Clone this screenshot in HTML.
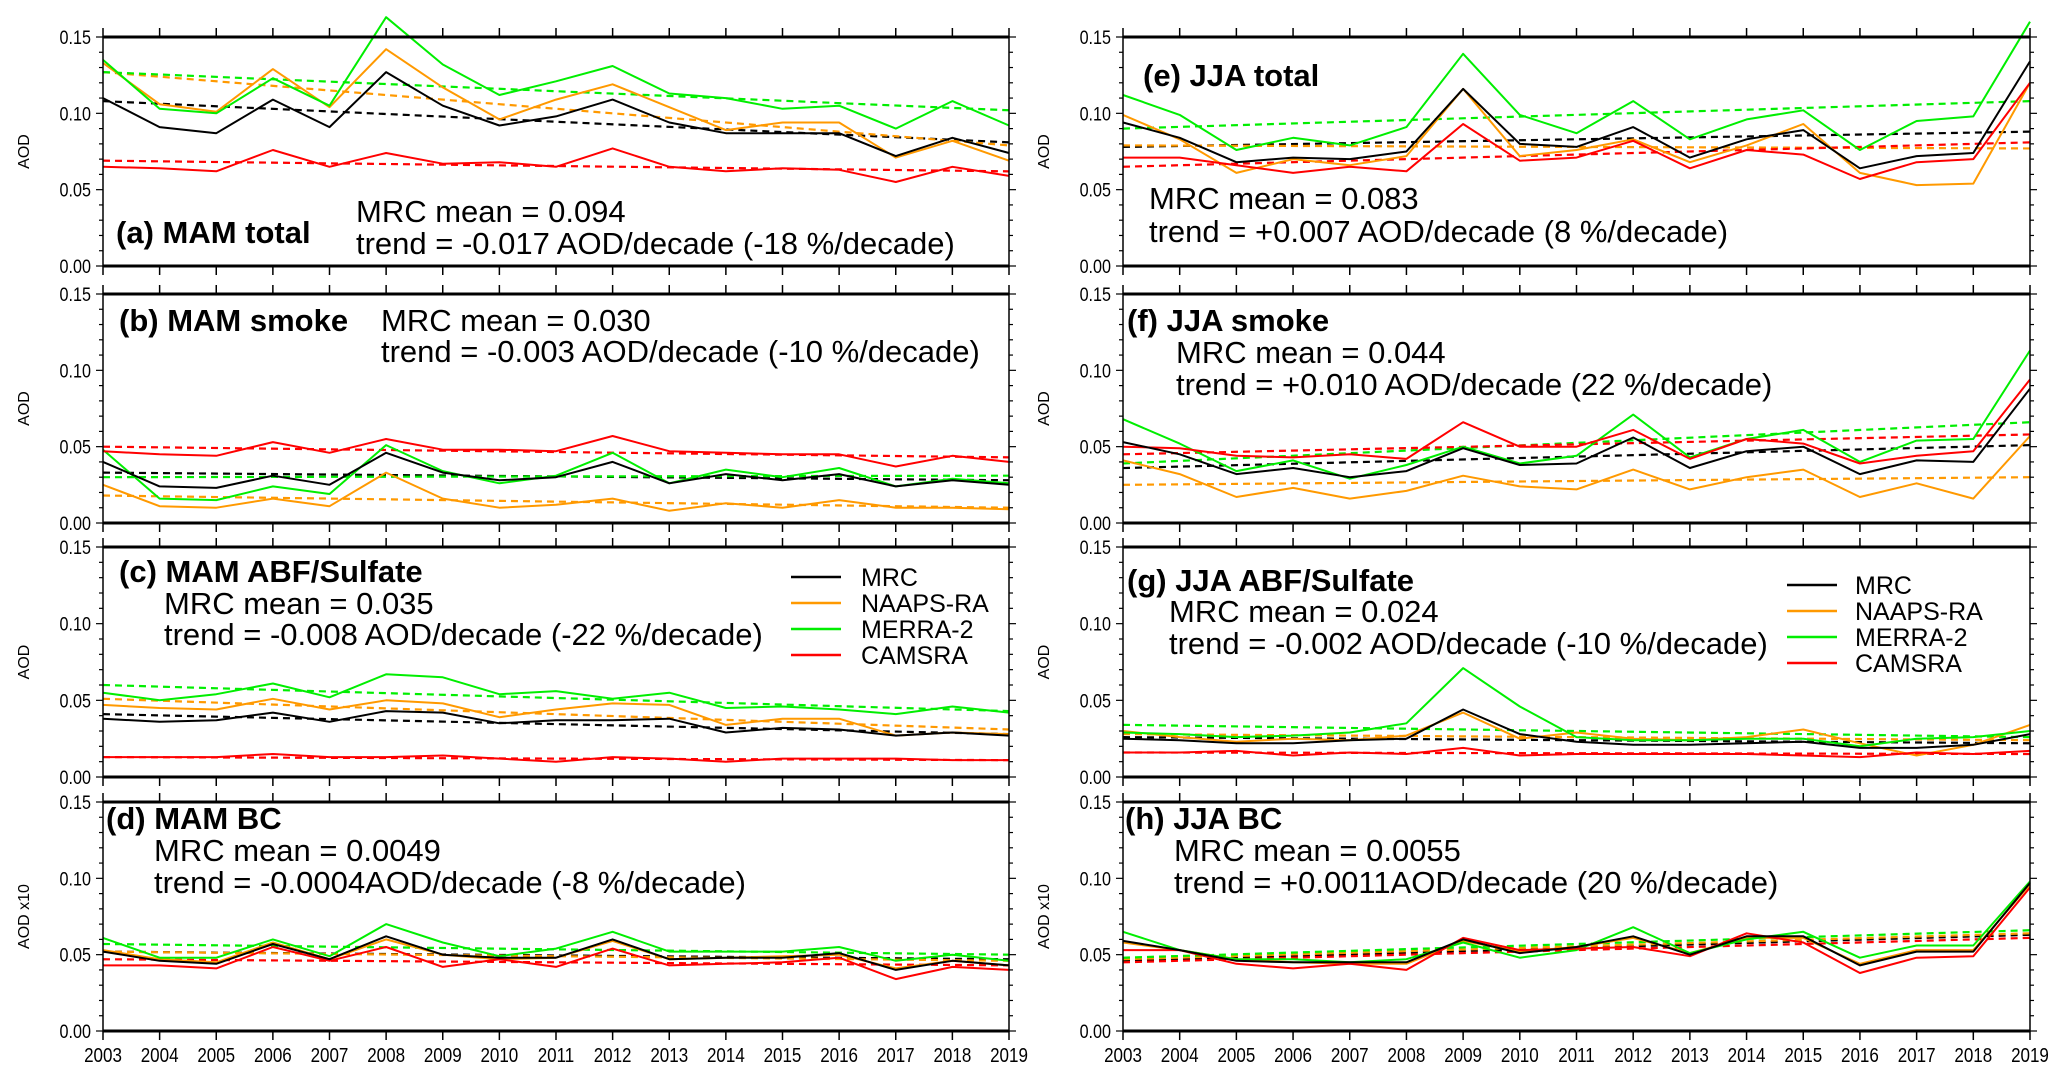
<!DOCTYPE html>
<html><head><meta charset="utf-8">
<style>
html,body{margin:0;padding:0;background:#fff;}
svg{display:block;font-family:"Liberation Sans",sans-serif;}
</style></head>
<body>
<svg id="chart" width="2067" height="1077" viewBox="0 0 2067 1077" xmlns="http://www.w3.org/2000/svg"></svg>
<script>
const years = [2003,2004,2005,2006,2007,2008,2009,2010,2011,2012,2013,2014,2015,2016,2017,2018,2019];
const yTicks = [0.00,0.05,0.10,0.15];
const seriesNames = ["MRC","NAAPS-RA","MERRA-2","CAMSRA"];

const aMRC   = [0.110,0.091,0.087,0.109,0.091,0.127,0.105,0.092,0.098,0.109,0.094,0.087,0.087,0.087,0.072,0.084,0.074];
const aNAAPS = [0.133,0.106,0.101,0.129,0.104,0.142,0.117,0.096,0.109,0.119,0.104,0.089,0.094,0.094,0.071,0.082,0.069];
const aMERRA = [0.135,0.103,0.100,0.123,0.105,0.163,0.132,0.112,0.121,0.131,0.113,0.110,0.103,0.105,0.090,0.108,0.092];
const aCAMS  = [0.065,0.064,0.062,0.076,0.065,0.074,0.067,0.068,0.065,0.077,0.065,0.062,0.064,0.063,0.055,0.065,0.059];
const aTrend = [[0.108,0.081],[0.127,0.079],[0.127,0.102],[0.069,0.062]];

const bMRC   = [0.040,0.024,0.023,0.031,0.025,0.046,0.033,0.028,0.030,0.040,0.026,0.032,0.028,0.032,0.024,0.028,0.025];
const bNAAPS = [0.025,0.011,0.010,0.016,0.011,0.033,0.016,0.010,0.012,0.016,0.008,0.013,0.010,0.015,0.010,0.010,0.009];
const bMERRA = [0.048,0.016,0.015,0.024,0.019,0.051,0.034,0.026,0.031,0.046,0.026,0.035,0.030,0.036,0.024,0.029,0.026];
const bCAMS  = [0.047,0.045,0.044,0.053,0.046,0.055,0.048,0.048,0.047,0.057,0.047,0.046,0.045,0.045,0.037,0.044,0.040];
const bTrend = [[0.033,0.028],[0.018,0.010],[0.030,0.031],[0.050,0.043]];

const cMRC   = [0.038,0.036,0.037,0.042,0.036,0.043,0.042,0.035,0.037,0.037,0.038,0.029,0.032,0.031,0.027,0.029,0.027];
const cNAAPS = [0.047,0.045,0.044,0.051,0.044,0.050,0.048,0.039,0.044,0.048,0.047,0.034,0.038,0.038,0.027,0.029,0.028];
const cMERRA = [0.055,0.050,0.054,0.061,0.052,0.067,0.065,0.054,0.056,0.051,0.055,0.045,0.046,0.044,0.041,0.046,0.042];
const cCAMS  = [0.013,0.013,0.013,0.015,0.013,0.013,0.014,0.012,0.010,0.013,0.012,0.010,0.012,0.012,0.012,0.011,0.011];
const cTrend = [[0.041,0.028],[0.051,0.031],[0.060,0.043],[0.013,0.011]];

const dMRC   = [0.052,0.046,0.044,0.057,0.047,0.062,0.050,0.048,0.048,0.060,0.047,0.048,0.048,0.051,0.040,0.046,0.043];
const dNAAPS = [0.053,0.047,0.045,0.058,0.047,0.060,0.050,0.047,0.048,0.059,0.047,0.048,0.049,0.050,0.041,0.046,0.043];
const dMERRA = [0.061,0.048,0.048,0.060,0.049,0.070,0.058,0.049,0.054,0.065,0.052,0.052,0.052,0.055,0.046,0.050,0.046];
const dCAMS  = [0.043,0.043,0.041,0.055,0.046,0.055,0.042,0.047,0.042,0.054,0.043,0.044,0.045,0.048,0.034,0.042,0.040];
const dTrend = [[0.052,0.047],[0.052,0.046],[0.057,0.050],[0.047,0.043]];

const eMRC   = [0.094,0.084,0.068,0.071,0.070,0.075,0.116,0.080,0.078,0.091,0.071,0.083,0.089,0.064,0.072,0.074,0.134];
const eNAAPS = [0.099,0.083,0.061,0.070,0.066,0.072,0.116,0.072,0.076,0.083,0.068,0.079,0.093,0.061,0.053,0.054,0.120];
const eMERRA = [0.112,0.099,0.076,0.084,0.079,0.091,0.139,0.099,0.087,0.108,0.083,0.096,0.102,0.076,0.095,0.098,0.160];
const eCAMS  = [0.071,0.071,0.066,0.061,0.065,0.062,0.093,0.069,0.071,0.082,0.064,0.076,0.073,0.057,0.068,0.070,0.120];
const eTrend = [[0.078,0.088],[0.079,0.077],[0.090,0.108],[0.065,0.081]];

const fMRC   = [0.053,0.045,0.032,0.036,0.030,0.034,0.049,0.038,0.039,0.056,0.036,0.047,0.050,0.032,0.041,0.040,0.088];
const fNAAPS = [0.041,0.032,0.017,0.023,0.016,0.021,0.031,0.024,0.022,0.035,0.022,0.030,0.035,0.017,0.026,0.016,0.057];
const fMERRA = [0.068,0.052,0.034,0.041,0.029,0.038,0.050,0.039,0.044,0.071,0.043,0.055,0.061,0.040,0.054,0.055,0.113];
const fCAMS  = [0.050,0.049,0.044,0.043,0.045,0.042,0.066,0.050,0.050,0.061,0.042,0.055,0.052,0.039,0.044,0.047,0.094];
const fTrend = [[0.036,0.051],[0.025,0.030],[0.039,0.066],[0.045,0.058]];

const gMRC   = [0.025,0.024,0.022,0.022,0.024,0.025,0.044,0.028,0.023,0.021,0.021,0.022,0.023,0.019,0.019,0.021,0.028];
const gNAAPS = [0.030,0.026,0.023,0.025,0.024,0.027,0.042,0.025,0.029,0.025,0.024,0.026,0.031,0.022,0.014,0.021,0.034];
const gMERRA = [0.029,0.028,0.026,0.027,0.029,0.035,0.071,0.046,0.026,0.024,0.024,0.025,0.025,0.020,0.025,0.026,0.030];
const gCAMS  = [0.016,0.016,0.017,0.014,0.016,0.015,0.019,0.014,0.015,0.015,0.015,0.015,0.014,0.013,0.016,0.015,0.017];
const gTrend = [[0.026,0.022],[0.028,0.024],[0.034,0.026],[0.016,0.015]];

const hMRC   = [0.059,0.053,0.046,0.045,0.045,0.045,0.060,0.051,0.055,0.062,0.050,0.062,0.062,0.043,0.052,0.052,0.097];
const hNAAPS = [0.058,0.053,0.047,0.045,0.044,0.044,0.059,0.052,0.055,0.061,0.051,0.061,0.061,0.044,0.053,0.053,0.096];
const hMERRA = [0.065,0.053,0.047,0.047,0.045,0.047,0.058,0.048,0.053,0.068,0.051,0.060,0.065,0.048,0.056,0.056,0.098];
const hCAMS  = [0.053,0.053,0.044,0.041,0.044,0.040,0.061,0.053,0.054,0.055,0.049,0.064,0.058,0.038,0.048,0.049,0.094];
const hTrend = [[0.046,0.063],[0.047,0.064],[0.048,0.066],[0.045,0.061]];

const NS = "http://www.w3.org/2000/svg";
const svg = document.getElementById("chart");
const colors = ["#000000","#ff9900","#00ee00","#ff0000"];
const rows = [[37,266],[294,523],[547,777],[802,1031]];
const cols = [[103,1009],[1123,2030]];

function el(tag, attrs, parent){
  const e = document.createElementNS(NS, tag);
  for (const k in attrs) e.setAttribute(k, attrs[k]);
  (parent||svg).appendChild(e);
  return e;
}

const panels = [
 {id:"a",col:0,row:0,data:[aMRC,aNAAPS,aMERRA,aCAMS],trend:aTrend,yt:"AOD",
  texts:[["(a) MAM total",116,243],["MRC mean = 0.094",356,222],["trend = -0.017 AOD/decade (-18 %/decade)",356,254]]},
 {id:"b",col:0,row:1,data:[bMRC,bNAAPS,bMERRA,bCAMS],trend:bTrend,yt:"AOD",
  texts:[["(b) MAM smoke",119,331],["MRC mean = 0.030",381,331],["trend = -0.003 AOD/decade (-10 %/decade)",381,362]]},
 {id:"c",col:0,row:2,data:[cMRC,cNAAPS,cMERRA,cCAMS],trend:cTrend,yt:"AOD",legend:[791,861,577],
  texts:[["(c) MAM ABF/Sulfate",119,582],["MRC mean = 0.035",164,614],["trend = -0.008 AOD/decade (-22 %/decade)",164,645]]},
 {id:"d",col:0,row:3,data:[dMRC,dNAAPS,dMERRA,dCAMS],trend:dTrend,yt:"AOD x10",xl:true,
  texts:[["(d) MAM BC",106,829],["MRC mean = 0.0049",154,861],["trend = -0.0004AOD/decade (-8 %/decade)",154,893]]},
 {id:"e",col:1,row:0,data:[eMRC,eNAAPS,eMERRA,eCAMS],trend:eTrend,yt:"AOD",
  texts:[["(e) JJA total",1143,86],["MRC mean = 0.083",1149,209],["trend = +0.007 AOD/decade (8 %/decade)",1149,242]]},
 {id:"f",col:1,row:1,data:[fMRC,fNAAPS,fMERRA,fCAMS],trend:fTrend,yt:"AOD",
  texts:[["(f) JJA smoke",1127,331],["MRC mean = 0.044",1176,363],["trend = +0.010 AOD/decade (22 %/decade)",1176,395]]},
 {id:"g",col:1,row:2,data:[gMRC,gNAAPS,gMERRA,gCAMS],trend:gTrend,yt:"AOD",legend:[1787,1855,585],
  texts:[["(g) JJA ABF/Sulfate",1127,591],["MRC mean = 0.024",1169,622],["trend = -0.002 AOD/decade (-10 %/decade)",1169,654]]},
 {id:"h",col:1,row:3,data:[hMRC,hNAAPS,hMERRA,hCAMS],trend:hTrend,yt:"AOD x10",xl:true,
  texts:[["(h) JJA BC",1125,829],["MRC mean = 0.0055",1174,861],["trend = +0.0011AOD/decade (20 %/decade)",1174,893]]}
];

panels.forEach(p=>{
  const [x0,x1] = cols[p.col], [y0,y1] = rows[p.row];
  const xs = i => x0 + (x1-x0)*i/(years.length-1);
  const ys = v => y1 - (y1-y0)*v/0.15;
  const g = el("g",{});
  
  
  for (let i=0;i<years.length;i++){
    const t1 = el("line",{x1:xs(i),x2:xs(i),y1:y1,y2:y1+9,stroke:"#000","stroke-width":1.5},g);
    
    
    const t2 = el("line",{x1:xs(i),x2:xs(i),y1:y0,y2:y0-9,stroke:"#000","stroke-width":1.5},g);
    
    
  }
  for (let k=0;k<=15;k++){
    const v = k*0.01, len = (k%5===0)?7:4;
    const l1 = el("line",{x1:x0-len,x2:x0,y1:ys(v),y2:ys(v),stroke:"#000","stroke-width":1.2},g);
    
    
    const l2 = el("line",{x1:x1,x2:x1+len,y1:ys(v),y2:ys(v),stroke:"#000","stroke-width":1.2},g);
    
    
  }
  yTicks.forEach(v=>{
    const t = el("text",{x:x0-12,y:ys(v)+7,"text-anchor":"end","font-size":19,transform:`translate(${x0-12},0) scale(0.85,1) translate(${-(x0-12)},0)`},g);
    t.textContent = v.toFixed(2);
    
    
  });
  if (p.xl){
    years.forEach((yr,i)=>{
      const t = el("text",{x:xs(i),y:y1+31,"text-anchor":"middle","font-size":20,transform:`translate(${xs(i)},0) scale(0.85,1) translate(${-xs(i)},0)`},g);
      t.textContent = yr;
      
      
    });
  }
  const ya = el("text",{x:0,y:0,"text-anchor":"middle","font-size":16,transform:`translate(${x0-74},${(y0+y1)/2}) rotate(-90)`},g);
  ya.textContent = p.yt;
  
  
  p.data.forEach((arr,si)=>{
    const tr = p.trend[si];
    const dl = el("line",{x1:xs(0),y1:ys(tr[0]),x2:xs(years.length-1),y2:ys(tr[1]),stroke:colors[si],"stroke-width":2.2,"stroke-dasharray":"7,5"},g);
    
    
  });
  [1,2,3,0].forEach(si=>{
    const arr = p.data[si];
    const pts = arr.map((v,i)=>xs(i).toFixed(1)+","+ys(v).toFixed(1)).join(" ");
    const pl = el("polyline",{points:pts,fill:"none",stroke:colors[si],"stroke-width":2,"stroke-linejoin":"round"},g);
    
    
  });
  const fr = el("rect",{x:x0,y:y0,width:x1-x0,height:y1-y0,fill:"none",stroke:"#000","stroke-width":1.5},g);
  
  
  const tb = el("line",{x1:x0,x2:x1,y1:y0,y2:y0,stroke:"#000","stroke-width":3},g);
  
  
  const bb = el("line",{x1:x0,x2:x1,y1:y1,y2:y1,stroke:"#000","stroke-width":3},g);
  
  
  p.texts.forEach((t,ti)=>{
    const attrs = ti===0 ? {x:t[1],y:t[2],"font-size":31,"font-weight":"bold"} : {x:t[1],y:t[2],"font-size":31};
    const tx = el("text",attrs,g);
    tx.textContent = t[0];
    
    
  });
  if (p.legend){
    const [lx,tx,ly] = p.legend;
    seriesNames.forEach((n,si)=>{
      const yy = ly + si*26;
      const ll = el("line",{x1:lx,x2:lx+50,y1:yy,y2:yy,stroke:colors[si],"stroke-width":2.5},g);
      
      
      const lt = el("text",{x:tx,y:yy+9,"font-size":25},g);
      lt.textContent = n;
      
      
    });
  }
});
</script>
</body></html>
